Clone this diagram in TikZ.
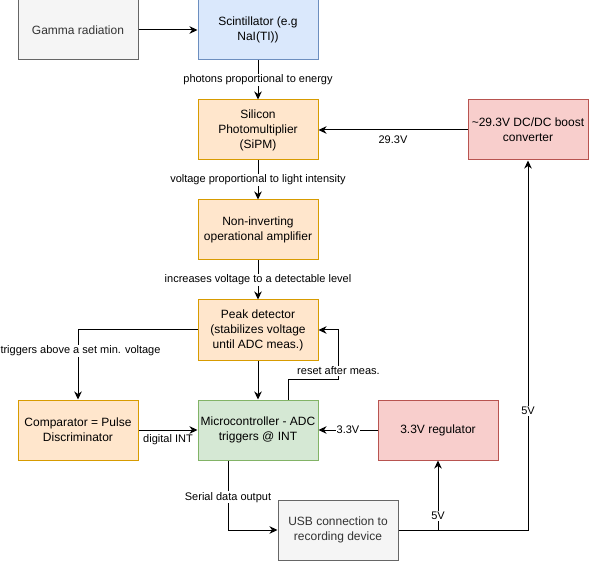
\documentclass[tikz,border=0pt]{standalone}
\usepackage{fontspec}
\setmainfont{Liberation Sans}
\usetikzlibrary{arrows.meta,calc}
\definecolor{grayfill}{HTML}{F5F5F5}
\definecolor{graystroke}{HTML}{666666}
\definecolor{graytext}{HTML}{333333}
\definecolor{bluefill}{HTML}{DAE8FC}
\definecolor{bluestroke}{HTML}{6C8EBF}
\definecolor{orangefill}{HTML}{FFE6CC}
\definecolor{orangestroke}{HTML}{D79B00}
\definecolor{greenfill}{HTML}{D5E8D4}
\definecolor{greenstroke}{HTML}{82B366}
\definecolor{redfill}{HTML}{F8CECC}
\definecolor{redstroke}{HTML}{B85450}
\begin{document}
\begin{tikzpicture}[x=1pt,y=-1pt,
  box/.style={draw, minimum width=120pt, minimum height=60pt, align=center,
    inner sep=0pt, line width=1pt, font=\fontsize{12}{15}\selectfont},
  graybox/.style={box, fill=grayfill, draw=graystroke, text=graytext},
  bluebox/.style={box, fill=bluefill, draw=bluestroke},
  orangebox/.style={box, fill=orangefill, draw=orangestroke},
  greenbox/.style={box, fill=greenfill, draw=greenstroke},
  redbox/.style={box, fill=redfill, draw=redstroke},
  arr/.style={draw, line width=1pt, -{Stealth[length=8pt,width=7.5pt,inset=2.5pt]}},
  lbl/.style={fill=white, inner sep=1pt, font=\fontsize{11}{13}\selectfont, text=black}]
\useasboundingbox (0,0) rectangle (589,561);

\node[graybox]   (gamma) at (78,30)  {Gamma radiation};
\node[bluebox]   (scint) at (258,30) {Scintillator (e.g\\NaI(TI))};
\node[orangebox] (sipm)  at (258,130) {Silicon\\Photomultiplier\\(SiPM)};
\node[orangebox] (amp)   at (258,230) {Non-inverting\\operational amplifier};
\node[orangebox] (peak)  at (258,330) {Peak detector\\(stabilizes voltage\\until ADC meas.)};
\node[greenbox]  (mcu)   at (258,430) {Microcontroller - ADC\\triggers @ INT};
\node[orangebox] (comp)  at (78,430)  {Comparator = Pulse\\Discriminator};
\node[redbox]    (reg)   at (438,430) {3.3V regulator};
\node[graybox]   (usb)   at (338,530) {USB connection to\\recording device};
\node[redbox]    (dcdc)  at (528,130) {\textasciitilde29.3V DC/DC boost\\converter};

\draw[arr] (gamma) -- (scint);
\draw[arr] (scint) -- node[lbl] {photons proportional to energy} (sipm);
\draw[arr] (sipm) -- node[lbl] {voltage proportional to light intensity} (amp);
\draw[arr] (amp) -- node[lbl] {increases voltage to a detectable level} (peak);
\draw[arr] (dcdc) -- node[lbl, below, yshift=-4pt] {29.3V} (sipm);
\draw[arr] (peak.west) -| node[lbl, pos=0.65, xshift=2.5pt, inner xsep=0pt] {triggers above a set min. voltage} (comp.north);
\draw[arr] (peak) -- (mcu);
\draw[arr] ([xshift=30pt]mcu.north) -- ++(0,-20) -| node[lbl, pos=0.59] {reset after meas.} ([xshift=20pt]peak.east) -- (peak.east);
\draw[arr] (comp) -- node[lbl, below, yshift=-3pt] {digital INT} (mcu);
\draw[arr] (reg) -- node[lbl] {3.3V} (mcu);
\draw[arr] ([xshift=-30pt]mcu.south) |- node[lbl, pos=0.264] {Serial data output} (usb.west);
\draw[arr] (usb.east) -| node[lbl, pos=0.6] {5V} (reg.south);
\draw[arr] (usb.east) -| node[lbl, pos=0.661] {5V} (dcdc.south);
\end{tikzpicture}
\end{document}
